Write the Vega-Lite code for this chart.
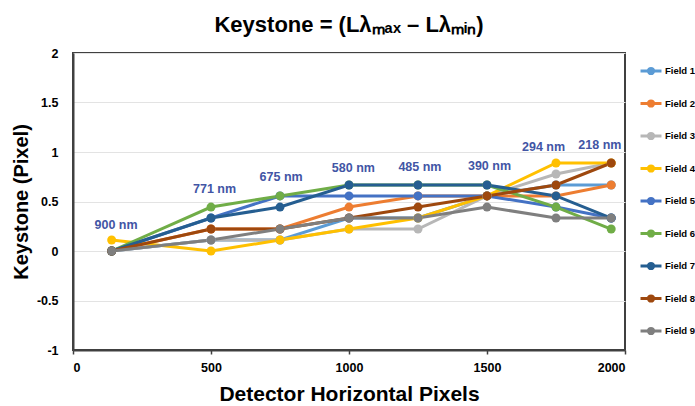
{
  "$schema": "https://vega.github.io/schema/vega-lite/v6.json",
  "autosize": {"type": "none"},
  "width": 552,
  "height": 297,
  "padding": {"left": 73, "top": 53, "right": 70, "bottom": 56},
  "background": "white",
  "config": {
    "font": "Liberation Sans",
    "view": {"stroke": "#404040", "strokeWidth": 2}
  },
  "title": {
    "text": "Keystone = (Lλₘₐₓ – Lλₘᵢₙ)",
    "fontSize": 22,
    "fontWeight": "bold",
    "font": "Liberation Sans",
    "color": "black",
    "offset": 10,
    "anchor": "middle"
  },
  "datasets": {
    "series": [
      {"field": "Field 1", "x": 140, "y": 0},
      {"field": "Field 1", "x": 500, "y": 0.111},
      {"field": "Field 1", "x": 750, "y": 0.111},
      {"field": "Field 1", "x": 1000, "y": 0.333},
      {"field": "Field 1", "x": 1250, "y": 0.333},
      {"field": "Field 1", "x": 1500, "y": 0.556},
      {"field": "Field 1", "x": 1750, "y": 0.667},
      {"field": "Field 1", "x": 1950, "y": 0.667},
      {"field": "Field 2", "x": 140, "y": 0},
      {"field": "Field 2", "x": 500, "y": 0.222},
      {"field": "Field 2", "x": 750, "y": 0.222},
      {"field": "Field 2", "x": 1000, "y": 0.444},
      {"field": "Field 2", "x": 1250, "y": 0.556},
      {"field": "Field 2", "x": 1500, "y": 0.556},
      {"field": "Field 2", "x": 1750, "y": 0.556},
      {"field": "Field 2", "x": 1950, "y": 0.667},
      {"field": "Field 3", "x": 140, "y": 0},
      {"field": "Field 3", "x": 500, "y": 0.111},
      {"field": "Field 3", "x": 750, "y": 0.111},
      {"field": "Field 3", "x": 1000, "y": 0.222},
      {"field": "Field 3", "x": 1250, "y": 0.222},
      {"field": "Field 3", "x": 1500, "y": 0.556},
      {"field": "Field 3", "x": 1750, "y": 0.778},
      {"field": "Field 3", "x": 1950, "y": 0.889},
      {"field": "Field 4", "x": 140, "y": 0.111},
      {"field": "Field 4", "x": 500, "y": 0},
      {"field": "Field 4", "x": 750, "y": 0.111},
      {"field": "Field 4", "x": 1000, "y": 0.222},
      {"field": "Field 4", "x": 1250, "y": 0.333},
      {"field": "Field 4", "x": 1500, "y": 0.556},
      {"field": "Field 4", "x": 1750, "y": 0.889},
      {"field": "Field 4", "x": 1950, "y": 0.889},
      {"field": "Field 5", "x": 140, "y": 0},
      {"field": "Field 5", "x": 500, "y": 0.333},
      {"field": "Field 5", "x": 750, "y": 0.556},
      {"field": "Field 5", "x": 1000, "y": 0.556},
      {"field": "Field 5", "x": 1250, "y": 0.556},
      {"field": "Field 5", "x": 1500, "y": 0.556},
      {"field": "Field 5", "x": 1750, "y": 0.444},
      {"field": "Field 5", "x": 1950, "y": 0.333},
      {"field": "Field 6", "x": 140, "y": 0},
      {"field": "Field 6", "x": 500, "y": 0.444},
      {"field": "Field 6", "x": 750, "y": 0.556},
      {"field": "Field 6", "x": 1000, "y": 0.667},
      {"field": "Field 6", "x": 1250, "y": 0.667},
      {"field": "Field 6", "x": 1500, "y": 0.667},
      {"field": "Field 6", "x": 1750, "y": 0.444},
      {"field": "Field 6", "x": 1950, "y": 0.222},
      {"field": "Field 7", "x": 140, "y": 0},
      {"field": "Field 7", "x": 500, "y": 0.333},
      {"field": "Field 7", "x": 750, "y": 0.444},
      {"field": "Field 7", "x": 1000, "y": 0.667},
      {"field": "Field 7", "x": 1250, "y": 0.667},
      {"field": "Field 7", "x": 1500, "y": 0.667},
      {"field": "Field 7", "x": 1750, "y": 0.556},
      {"field": "Field 7", "x": 1950, "y": 0.333},
      {"field": "Field 8", "x": 140, "y": 0},
      {"field": "Field 8", "x": 500, "y": 0.222},
      {"field": "Field 8", "x": 750, "y": 0.222},
      {"field": "Field 8", "x": 1000, "y": 0.333},
      {"field": "Field 8", "x": 1250, "y": 0.444},
      {"field": "Field 8", "x": 1500, "y": 0.556},
      {"field": "Field 8", "x": 1750, "y": 0.667},
      {"field": "Field 8", "x": 1950, "y": 0.889},
      {"field": "Field 9", "x": 140, "y": 0},
      {"field": "Field 9", "x": 500, "y": 0.111},
      {"field": "Field 9", "x": 750, "y": 0.222},
      {"field": "Field 9", "x": 1000, "y": 0.333},
      {"field": "Field 9", "x": 1250, "y": 0.333},
      {"field": "Field 9", "x": 1500, "y": 0.444},
      {"field": "Field 9", "x": 1750, "y": 0.333},
      {"field": "Field 9", "x": 1950, "y": 0.333}
    ],
    "labels": [
      {"x": 156, "y": 0.26, "label": "900 nm"},
      {"x": 513, "y": 0.63, "label": "771 nm"},
      {"x": 754, "y": 0.75, "label": "675 nm"},
      {"x": 1016, "y": 0.84, "label": "580 nm"},
      {"x": 1257, "y": 0.85, "label": "485 nm"},
      {"x": 1509, "y": 0.86, "label": "390 nm"},
      {"x": 1705, "y": 1.05, "label": "294 nm"},
      {"x": 1909, "y": 1.07, "label": "218 nm"}
    ]
  },
  "layer": [
    {
      "data": {"name": "series"},
      "mark": {"type": "line", "strokeWidth": 3, "point": {"filled": true, "size": 80, "opacity": 1}},
      "encoding": {
        "x": {
          "field": "x", "type": "quantitative",
          "scale": {"domain": [0, 2000]},
          "axis": {
            "values": [0, 500, 1000, 1500, 2000],
            "format": "d",
            "title": "Detector Horizontal Pixels",
            "titleFontSize": 21, "titleFontWeight": "bold", "titleColor": "black", "titlePadding": 10,
            "labelFontSize": 12.5, "labelFontWeight": "bold", "labelColor": "black", "labelPadding": 7,
            "domainColor": "#404040", "domainWidth": 2,
            "ticks": true, "tickColor": "#404040", "tickWidth": 1.5, "tickSize": 4, "tickOffset": 0,
            "grid": false
          }
        },
        "y": {
          "field": "y", "type": "quantitative",
          "scale": {"domain": [-1, 2]},
          "axis": {
            "values": [-1, -0.5, 0, 0.5, 1, 1.5, 2],
            "labelExpr": "'' + datum.value",
            "title": "Keystone (Pixel)",
            "titleFontSize": 20, "titleFontWeight": "bold", "titleColor": "black", "titlePadding": 5,
            "labelFontSize": 12.5, "labelFontWeight": "bold", "labelColor": "black", "labelPadding": 15,
            "domainColor": "#404040", "domainWidth": 2,
            "ticks": false,
            "grid": true, "gridColor": "#e3e3e3", "gridWidth": 1
          }
        },
        "color": {
          "field": "field", "type": "nominal",
          "scale": {
            "domain": ["Field 1", "Field 2", "Field 3", "Field 4", "Field 5", "Field 6", "Field 7", "Field 8", "Field 9"],
            "range": ["#5B9BD5", "#ED7D31", "#B7B7B7", "#FFC000", "#4472C4", "#70AD47", "#255E91", "#9E480E", "#7F7F7F"]
          },
          "legend": {
            "title": null,
            "orient": "none",
            "legendX": 566,
            "legendY": 6,
            "symbolType": "M-1,0L1,0M-0.25,0A0.25,0.25 0 1,0 0.25,0A0.25,0.25 0 1,0 -0.25,0",
            "symbolSize": 440,
            "symbolStrokeWidth": 3,
            "labelFontSize": 9.5,
            "labelFontWeight": "bold",
            "labelColor": "black",
            "labelOffset": 2,
            "rowPadding": 11.5,
            "encode": {
              "symbols": {
                "update": {
                  "fill": {"scale": "color", "field": "value"},
                  "stroke": {"scale": "color", "field": "value"},
                  "opacity": {"value": 1}
                }
              }
            }
          }
        }
      }
    },
    {
      "data": {"name": "labels"},
      "mark": {"type": "text", "fontSize": 12.5, "fontWeight": "bold", "color": "#4255A5", "align": "center", "baseline": "middle"},
      "encoding": {
        "x": {"field": "x", "type": "quantitative"},
        "y": {"field": "y", "type": "quantitative"},
        "text": {"field": "label"}
      }
    }
  ]
}
